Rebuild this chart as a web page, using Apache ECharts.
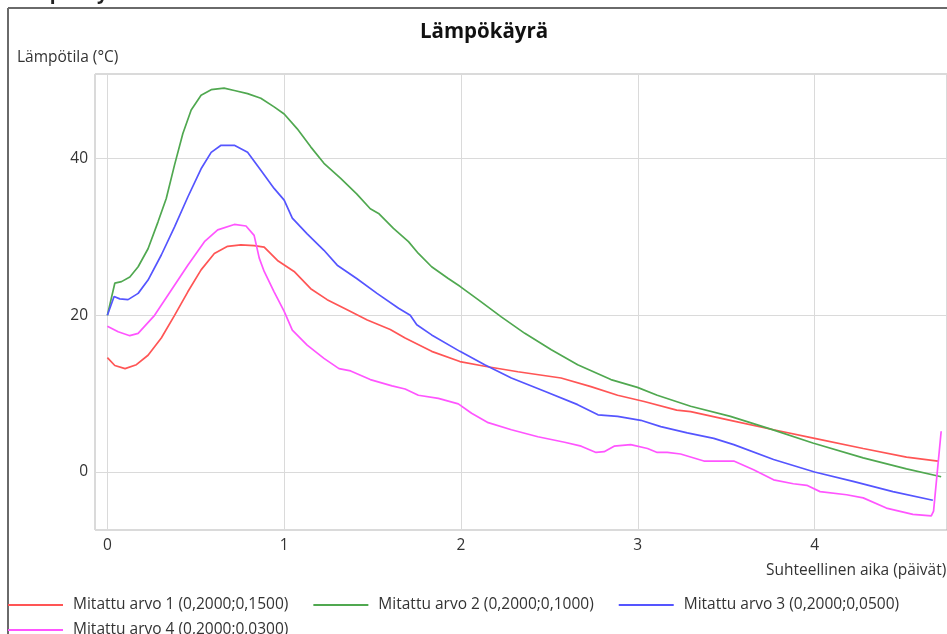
<!DOCTYPE html>
<html>
<head>
<meta charset="utf-8">
<title>Lämpökäyrä</title>
<script src="https://cdn.jsdelivr.net/npm/echarts@6/dist/echarts.min.js"></script>
<style>
  html, body { margin: 0; padding: 0; background: #fff; }
  #chart { width: 947px; height: 634px; }
</style>
</head>
<body>
<div id="chart"></div>
<script>
// series names as in the legend
const seriesNames = [
  'Mitattu arvo 1 (0,2000;0,1500)',
  'Mitattu arvo 2 (0,2000;0,1000)',
  'Mitattu arvo 3 (0,2000;0,0500)',
  'Mitattu arvo 4 (0,2000;0,0300)'
];
const seriesColors = ['#ff5555', '#50a850', '#5555ff', '#ff55ff'];

// [aika (päivät), lämpötila (°C)]
const measured1 = [
  [0, 14.6], [0.042, 13.6], [0.1, 13.2], [0.164, 13.7], [0.23, 14.9], [0.305, 17.1],
  [0.38, 20.0], [0.455, 23.0], [0.53, 25.8], [0.605, 27.9], [0.68, 28.8], [0.755, 29.0],
  [0.83, 28.9], [0.887, 28.7], [0.962, 27.0], [1.056, 25.6], [1.15, 23.4], [1.243, 22.0],
  [1.356, 20.7], [1.47, 19.4], [1.6, 18.2], [1.684, 17.1], [1.834, 15.4], [1.994, 14.1],
  [2.134, 13.5], [2.322, 12.8], [2.566, 12.0], [2.735, 10.9], [2.886, 9.8], [3.036, 9.0],
  [3.22, 7.9], [3.299, 7.7], [3.524, 6.6], [3.768, 5.4], [4.0, 4.3], [4.275, 3.0],
  [4.52, 1.9], [4.698, 1.4]
];
const measured2 = [
  [0, 20], [0.042, 24.1], [0.08, 24.3], [0.127, 24.9], [0.174, 26.2], [0.23, 28.5],
  [0.286, 31.9], [0.333, 34.9], [0.38, 39.2], [0.427, 43.2], [0.474, 46.2], [0.53, 48.1],
  [0.587, 48.8], [0.66, 49.0], [0.718, 48.7], [0.793, 48.3], [0.868, 47.7], [0.943, 46.6],
  [1.0, 45.7], [1.074, 43.8], [1.15, 41.5], [1.225, 39.4], [1.318, 37.5], [1.41, 35.5],
  [1.487, 33.6], [1.534, 33.0], [1.618, 31.1], [1.703, 29.4], [1.759, 27.9], [1.834, 26.2],
  [1.928, 24.7], [1.994, 23.7], [2.097, 22.0], [2.228, 19.8], [2.361, 17.7], [2.511, 15.6],
  [2.66, 13.7], [2.848, 11.8], [2.998, 10.8], [3.11, 9.8], [3.299, 8.4], [3.524, 7.1],
  [3.748, 5.5], [3.99, 3.7], [4.275, 1.8], [4.52, 0.4], [4.716, -0.6]
];
const measured3 = [
  [0, 20], [0.038, 22.4], [0.07, 22.1], [0.117, 22.0], [0.174, 22.8], [0.23, 24.5],
  [0.305, 27.7], [0.38, 31.3], [0.455, 35.1], [0.53, 38.7], [0.587, 40.8], [0.643, 41.7],
  [0.718, 41.7], [0.793, 40.8], [0.868, 38.5], [0.943, 36.2], [1.0, 34.7], [1.046, 32.4],
  [1.13, 30.4], [1.225, 28.3], [1.3, 26.4], [1.41, 24.7], [1.525, 22.8], [1.647, 20.9],
  [1.713, 20.0], [1.75, 18.8], [1.834, 17.5], [1.994, 15.4], [2.134, 13.7], [2.285, 12.0],
  [2.473, 10.3], [2.66, 8.6], [2.775, 7.3], [2.886, 7.1], [3.017, 6.6], [3.13, 5.8],
  [3.28, 5.0], [3.43, 4.3], [3.543, 3.5], [3.768, 1.6], [4.0, 0.0], [4.218, -1.2],
  [4.443, -2.5], [4.669, -3.6]
];
const measured4 = [
  [0, 18.6], [0.061, 17.9], [0.127, 17.4], [0.174, 17.7], [0.267, 20.0], [0.361, 23.2],
  [0.455, 26.4], [0.549, 29.4], [0.624, 30.9], [0.718, 31.6], [0.784, 31.4], [0.83, 30.2],
  [0.859, 27.3], [0.887, 25.6], [0.943, 23.0], [1.0, 20.5], [1.046, 18.1], [1.13, 16.2],
  [1.225, 14.5], [1.31, 13.2], [1.376, 12.9], [1.487, 11.8], [1.61, 11.0], [1.684, 10.6],
  [1.759, 9.8], [1.872, 9.4], [1.985, 8.7], [2.06, 7.5], [2.154, 6.3], [2.285, 5.4],
  [2.435, 4.5], [2.586, 3.8], [2.68, 3.3], [2.764, 2.5], [2.81, 2.6], [2.866, 3.3],
  [2.96, 3.5], [3.055, 3.0], [3.11, 2.5], [3.167, 2.5], [3.242, 2.3], [3.374, 1.4],
  [3.543, 1.4], [3.655, 0.3], [3.768, -1.0], [3.88, -1.5], [3.956, -1.7], [4.031, -2.5],
  [4.181, -2.9], [4.275, -3.3], [4.406, -4.6], [4.556, -5.4], [4.66, -5.6], [4.673, -5.0],
  [4.716, 5.2]
];
const allData = [measured1, measured2, measured3, measured4];

const font = '"Open Sans", "Noto Sans", sans-serif';
const fs = 15.5;

const chart = echarts.init(document.getElementById('chart'));

const legendText = {
  color: '#333',
  fontFamily: font,
  fontSize: fs,
  padding: [0, 0, 0, 5]
};

const option = {
  backgroundColor: '#fff',
  animation: false,
  title: {
    text: 'Lämpökäyrä',
    left: 420,
    top: 22,
    padding: 0,
    textStyle: { fontFamily: font, fontSize: 20.5, fontWeight: 'bold', color: '#111' }
  },
  graphic: [
    // outer window frame
    { type: 'line', shape: { x1: 8, y1: 8, x2: 947, y2: 8 }, style: { stroke: '#6a6a6a', lineWidth: 2 } },
    { type: 'line', shape: { x1: 8, y1: 8, x2: 8, y2: 634 }, style: { stroke: '#6a6a6a', lineWidth: 2 } },
    // cut off heading at the very top
    { type: 'text', left: 9, top: -16, style: { text: 'Lämpökäyrä', fill: '#222', font: 'bold 19px ' + font } },
    // axis names
    { type: 'text', left: 17, top: 50, style: { text: 'Lämpötila (°C)', fill: '#333', font: fs + 'px ' + font } },
    { type: 'text', left: 766, top: 563, style: { text: 'Suhteellinen aika (päivät)', fill: '#333', font: fs + 'px ' + font } }
  ],
  legend: [
    {
      data: seriesNames.slice(0, 3),
      left: 8,
      top: 597,
      padding: 0,
      itemGap: 25,
      itemWidth: 55,
      itemHeight: 2,
      icon: 'rect',
      textStyle: legendText
    },
    {
      data: seriesNames.slice(3),
      left: 8,
      top: 622,
      padding: 0,
      itemWidth: 55,
      itemHeight: 2,
      icon: 'rect',
      textStyle: legendText
    }
  ],
  grid: {
    left: 95,
    top: 74,
    right: -4,
    bottom: 104,
    show: true,
    borderColor: '#b4b4b4',
    borderWidth: 1
  },
  xAxis: {
    type: 'value',
    min: -0.07,
    max: 4.749,
    splitNumber: 5,
    axisLine: { show: false },
    axisTick: { show: false },
    axisLabel: {
      showMinLabel: false,
      showMaxLabel: false,
      margin: 8,
      color: '#333',
      fontFamily: font,
      fontSize: fs
    },
    splitLine: { show: true, lineStyle: { color: '#dadada', width: 1 } }
  },
  yAxis: {
    type: 'value',
    min: -7.4,
    max: 50.8,
    splitNumber: 3,
    axisLine: { show: false },
    axisTick: { show: false },
    axisLabel: {
      showMinLabel: false,
      showMaxLabel: false,
      margin: 7,
      color: '#333',
      fontFamily: font,
      fontSize: fs
    },
    splitLine: { show: true, lineStyle: { color: '#dadada', width: 1 } }
  },
  series: allData.map((d, i) => ({
    name: seriesNames[i],
    type: 'line',
    data: d,
    showSymbol: false,
    color: seriesColors[i],
    lineStyle: { width: 1.7, color: seriesColors[i] }
  }))
};

chart.setOption(option);
</script>
</body>
</html>
